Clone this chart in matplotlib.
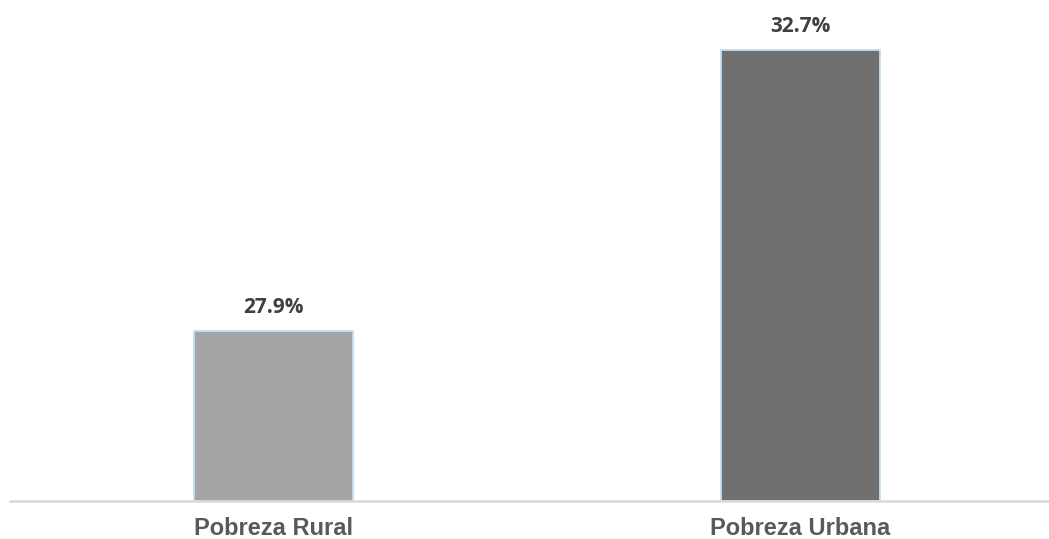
import matplotlib
matplotlib.use("Agg")
import matplotlib.pyplot as plt

categories = ["Pobreza Rural", "Pobreza Urbana"]
values = [27.9, 32.7]
value_labels = ["27.9%", "32.7%"]
colors = ["#a5a5a5", "#707070"]

W, H = 1049, 539
fig = plt.figure(figsize=(W / 100, H / 100), dpi=100)
x0, x1 = 10, 1064
ybase, ytop = 500.5, 0
ax = fig.add_axes([x0 / W, (H - ybase) / H, (x1 - x0) / W, (ybase - ytop) / H])

ymin = 25.0
scale = 58.54
ax.set_ylim(ymin, ymin + (ybase - ytop) / scale)
ax.set_xlim(-0.5, 1.5)

xs = list(range(len(categories)))
bars = ax.bar(xs, [v - ymin for v in values], bottom=ymin, width=0.302,
              color=colors, edgecolor="#c2def2", linewidth=1.3, zorder=2)

for x, v, lab in zip(xs, values, value_labels):
    ax.annotate(lab, (x, v), xytext=(0, 9), textcoords="offset points",
                ha="center", va="bottom", fontsize=15, fontweight="bold",
                color="#404040", family="Open Sans")

ax.set_xticks(xs)
ax.set_xticklabels(categories, fontsize=17, fontweight="bold",
                   color="#595959", family="Liberation Sans")
ax.tick_params(axis="x", length=0, pad=12)
ax.set_yticks([])
for s in ["top", "right", "left"]:
    ax.spines[s].set_visible(False)
ax.spines["bottom"].set_color("#d9d9d9")
ax.spines["bottom"].set_linewidth(1.8)

fig.savefig("out.png", dpi=100)
